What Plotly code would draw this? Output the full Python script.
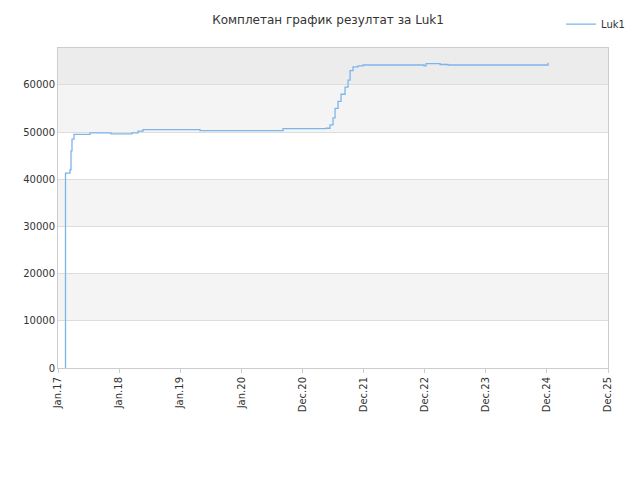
import plotly.graph_objects as go

px = [57,57.5,62,63,64,66,82,103,124,130,135,192,275,318,322,325,327,330,333,337,340,342,345,350,355,416,418,428,432,440,538,540]
vals = [0,41300,42000,46000,48500,49500,49800,49600,49800,50200,50500,50300,50700,50800,51500,53000,55000,56500,58000,59500,61000,63000,63800,64000,64200,64000,64500,64500,64300,64200,64200,64700]
x = [(p-50)/61.1 for p in px]
tick_labels = ["Jan.17","Jan.18","Jan.19","Jan.20","Dec.20","Dec.21","Dec.22","Dec.23","Dec.24","Dec.25"]

fig = go.Figure(go.Scatter(x=x, y=vals, mode="lines", line=dict(color="#7cb5ec", width=1.3, shape="hv"), name="Luk1", showlegend=True))
shapes = []
for lo, hi, c in [(10000,20000,"#f4f4f4"),(30000,40000,"#f4f4f4"),(50000,60000,"#f4f4f4"),(60000,68000,"#ececec")]:
    shapes.append(dict(type="rect", xref="paper", yref="y", x0=0, x1=1, y0=lo, y1=hi, fillcolor=c, line_width=0, layer="below"))
fig.update_layout(
    width=640, height=480, margin=dict(l=50, r=40, t=40, b=120, autoexpand=False),
    plot_bgcolor="white", paper_bgcolor="white",
    title=dict(text="Комплетан график резултат за Luk1", x=0.5, y=0.985, font=dict(size=12, color="#333", family="DejaVu Sans")),
    font=dict(family="DejaVu Sans", size=10, color="#333"),
    shapes=shapes,
    legend=dict(x=1.04, y=1.12, xanchor="right", yanchor="top", font=dict(size=10)),
    xaxis=dict(range=[0,9], tickvals=list(range(10)), ticktext=tick_labels, tickangle=-90, showgrid=False, showline=True, linecolor="#ccc", mirror=True, zeroline=False, ticks="outside", tickcolor="#ccc", ticklen=4, automargin=False),
    yaxis=dict(range=[0,67800], tickvals=[0,10000,20000,30000,40000,50000,60000], tickformat="d", showgrid=True, gridcolor="#dddddd", showline=True, linecolor="#ccc", mirror=True, zeroline=False, automargin=False),
)
fig.write_html("out.html")
